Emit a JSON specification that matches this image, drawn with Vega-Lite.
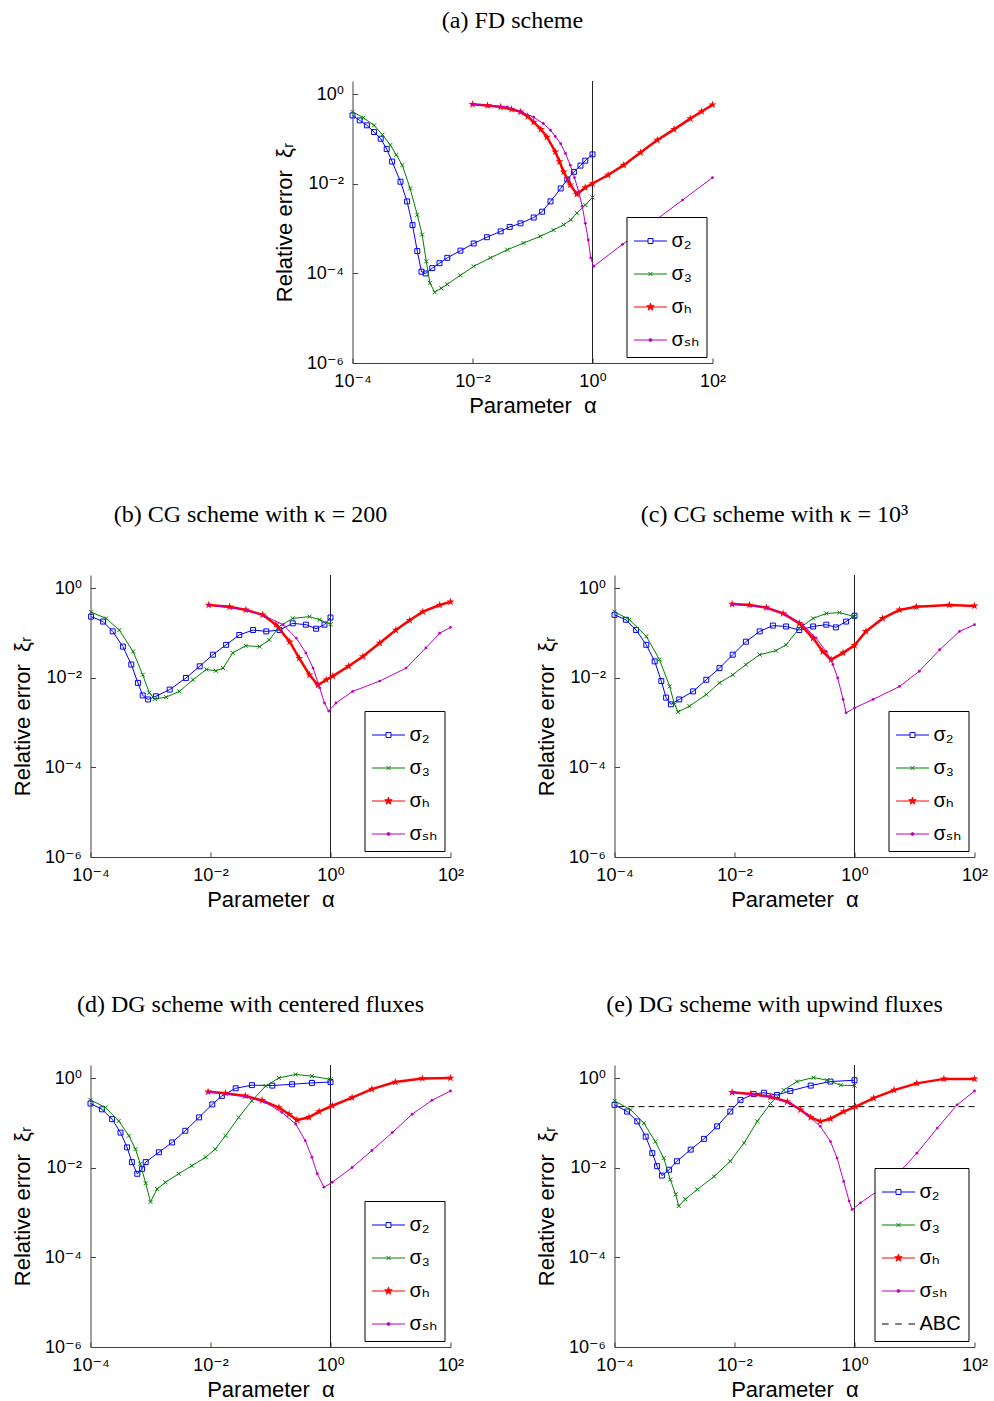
{
"$schema": "https://vega.github.io/schema/vega-lite/v6.json",
"padding": {"top": 8, "left": 11, "right": 0, "bottom": 0},
"config": {
  "view": {"stroke": null},
  "title": {"font": "Liberation Serif", "fontSize": 24, "fontWeight": "normal", "color": "black", "offset": 48, "dx": -20, "anchor": "middle"},
  "axis": {"labelFont": "Liberation Sans, DejaVu Sans", "labelFontSize": 18, "labelColor": "black", "titleFont": "Liberation Sans, DejaVu Sans", "titleFontSize": 22, "titleFontWeight": "normal", "titleColor": "black", "domainColor": "#404040", "tickColor": "#404040", "tickSize": -5, "grid": false, "labelPadding": 14, "titlePadding": 10, "labelFlush": false, "labelAngle": 0},
  "axisX": {"titlePadding": 5},
  "axisY": {"titlePadding": 10},
  "legend": {"orient": "bottom-right", "offset": 6, "padding": 7, "strokeColor": "black", "fillColor": "white", "symbolSize": 1089, "rowPadding": 6, "labelFont": "Liberation Sans, DejaVu Sans", "labelFontSize": 20, "labelColor": "black", "labelOffset": 4, "symbolStrokeWidth": 1, "symbolOpacity": 1, "titlePadding": 0}
},
"datasets": {
"a": [
{"s":"σ₂","la":-4.0,"le":-0.47},{"s":"σ₂","la":-3.88,"le":-0.58},{"s":"σ₂","la":-3.76,"le":-0.69},{"s":"σ₂","la":-3.64,"le":-0.84},{"s":"σ₂","la":-3.53,"le":-0.99},{"s":"σ₂","la":-3.43,"le":-1.22},{"s":"σ₂","la":-3.34,"le":-1.5},{"s":"σ₂","la":-3.2,"le":-1.95},{"s":"σ₂","la":-3.09,"le":-2.39},{"s":"σ₂","la":-3.0,"le":-2.92},{"s":"σ₂","la":-2.92,"le":-3.5},{"s":"σ₂","la":-2.85,"le":-3.96},{"s":"σ₂","la":-2.78,"le":-4.0},{"s":"σ₂","la":-2.67,"le":-3.88},{"s":"σ₂","la":-2.55,"le":-3.77},{"s":"σ₂","la":-2.42,"le":-3.65},{"s":"σ₂","la":-2.2,"le":-3.49},{"s":"σ₂","la":-1.98,"le":-3.33},{"s":"σ₂","la":-1.76,"le":-3.19},{"s":"σ₂","la":-1.53,"le":-3.06},{"s":"σ₂","la":-1.38,"le":-2.96},{"s":"σ₂","la":-1.2,"le":-2.88},{"s":"σ₂","la":-0.98,"le":-2.75},{"s":"σ₂","la":-0.84,"le":-2.62},{"s":"σ₂","la":-0.7,"le":-2.39},{"s":"σ₂","la":-0.53,"le":-2.1},{"s":"σ₂","la":-0.42,"le":-1.9},{"s":"σ₂","la":-0.31,"le":-1.73},{"s":"σ₂","la":-0.2,"le":-1.59},{"s":"σ₂","la":-0.12,"le":-1.48},{"s":"σ₂","la":0.0,"le":-1.34},
{"s":"σ₃","la":-4.0,"le":-0.39},{"s":"σ₃","la":-3.82,"le":-0.52},{"s":"σ₃","la":-3.64,"le":-0.69},{"s":"σ₃","la":-3.5,"le":-0.9},{"s":"σ₃","la":-3.37,"le":-1.13},{"s":"σ₃","la":-3.27,"le":-1.35},{"s":"σ₃","la":-3.17,"le":-1.58},{"s":"σ₃","la":-3.04,"le":-2.1},{"s":"σ₃","la":-2.92,"le":-2.69},{"s":"σ₃","la":-2.84,"le":-3.13},{"s":"σ₃","la":-2.77,"le":-3.73},{"s":"σ₃","la":-2.71,"le":-4.21},{"s":"σ₃","la":-2.63,"le":-4.42},{"s":"σ₃","la":-2.52,"le":-4.33},{"s":"σ₃","la":-2.42,"le":-4.24},{"s":"σ₃","la":-2.2,"le":-4.04},{"s":"σ₃","la":-1.98,"le":-3.84},{"s":"σ₃","la":-1.7,"le":-3.65},{"s":"σ₃","la":-1.42,"le":-3.47},{"s":"σ₃","la":-1.15,"le":-3.32},{"s":"σ₃","la":-0.87,"le":-3.17},{"s":"σ₃","la":-0.65,"le":-3.03},{"s":"σ₃","la":-0.48,"le":-2.91},{"s":"σ₃","la":-0.36,"le":-2.8},{"s":"σ₃","la":-0.26,"le":-2.65},{"s":"σ₃","la":-0.12,"le":-2.47},{"s":"σ₃","la":0.0,"le":-2.3},
{"s":"σₕ","la":-2.0,"le":-0.22},{"s":"σₕ","la":-1.75,"le":-0.25},{"s":"σₕ","la":-1.53,"le":-0.28},{"s":"σₕ","la":-1.35,"le":-0.33},{"s":"σₕ","la":-1.2,"le":-0.39},{"s":"σₕ","la":-1.08,"le":-0.49},{"s":"σₕ","la":-0.98,"le":-0.62},{"s":"σₕ","la":-0.86,"le":-0.78},{"s":"σₕ","la":-0.76,"le":-0.95},{"s":"σₕ","la":-0.62,"le":-1.28},{"s":"σₕ","la":-0.55,"le":-1.5},{"s":"σₕ","la":-0.48,"le":-1.73},{"s":"σₕ","la":-0.37,"le":-2.02},{"s":"σₕ","la":-0.26,"le":-2.23},{"s":"σₕ","la":-0.12,"le":-2.08},{"s":"σₕ","la":0.0,"le":-1.99},{"s":"σₕ","la":0.26,"le":-1.8},{"s":"σₕ","la":0.52,"le":-1.58},{"s":"σₕ","la":0.8,"le":-1.3},{"s":"σₕ","la":1.08,"le":-1.02},{"s":"σₕ","la":1.36,"le":-0.78},{"s":"σₕ","la":1.63,"le":-0.54},{"s":"σₕ","la":1.82,"le":-0.38},{"s":"σₕ","la":2.0,"le":-0.23},
{"s":"σₛₕ","la":-2.0,"le":-0.22},{"s":"σₛₕ","la":-1.7,"le":-0.25},{"s":"σₛₕ","la":-1.42,"le":-0.28},{"s":"σₛₕ","la":-1.2,"le":-0.38},{"s":"σₛₕ","la":-0.98,"le":-0.51},{"s":"σₛₕ","la":-0.82,"le":-0.65},{"s":"σₛₕ","la":-0.7,"le":-0.8},{"s":"σₛₕ","la":-0.62,"le":-0.94},{"s":"σₛₕ","la":-0.53,"le":-1.1},{"s":"σₛₕ","la":-0.45,"le":-1.32},{"s":"σₛₕ","la":-0.37,"le":-1.58},{"s":"σₛₕ","la":-0.3,"le":-1.86},{"s":"σₛₕ","la":-0.23,"le":-2.17},{"s":"σₛₕ","la":-0.17,"le":-2.5},{"s":"σₛₕ","la":-0.12,"le":-2.88},{"s":"σₛₕ","la":-0.07,"le":-3.25},{"s":"σₛₕ","la":-0.03,"le":-3.65},{"s":"σₛₕ","la":0.02,"le":-3.84},{"s":"σₛₕ","la":0.5,"le":-3.35},{"s":"σₛₕ","la":1.0,"le":-2.86},{"s":"σₛₕ","la":1.5,"le":-2.36},{"s":"σₛₕ","la":2.0,"le":-1.86}
],
"b": [
{"s":"σ₂","la":-3.99,"le":-0.63},{"s":"σ₂","la":-3.79,"le":-0.74},{"s":"σ₂","la":-3.63,"le":-0.96},{"s":"σ₂","la":-3.46,"le":-1.3},{"s":"σ₂","la":-3.32,"le":-1.7},{"s":"σ₂","la":-3.21,"le":-2.11},{"s":"σ₂","la":-3.13,"le":-2.39},{"s":"σ₂","la":-3.04,"le":-2.48},{"s":"σ₂","la":-2.91,"le":-2.41},{"s":"σ₂","la":-2.68,"le":-2.26},{"s":"σ₂","la":-2.41,"le":-2.0},{"s":"σ₂","la":-2.18,"le":-1.74},{"s":"σ₂","la":-1.96,"le":-1.48},{"s":"σ₂","la":-1.74,"le":-1.26},{"s":"σ₂","la":-1.52,"le":-1.04},{"s":"σ₂","la":-1.29,"le":-0.93},{"s":"σ₂","la":-1.07,"le":-0.96},{"s":"σ₂","la":-0.85,"le":-0.93},{"s":"σ₂","la":-0.63,"le":-0.78},{"s":"σ₂","la":-0.41,"le":-0.81},{"s":"σ₂","la":-0.24,"le":-0.9},{"s":"σ₂","la":-0.1,"le":-0.81},{"s":"σ₂","la":0.0,"le":-0.65},
{"s":"σ₃","la":-3.99,"le":-0.53},{"s":"σ₃","la":-3.74,"le":-0.67},{"s":"σ₃","la":-3.52,"le":-0.93},{"s":"σ₃","la":-3.29,"le":-1.41},{"s":"σ₃","la":-3.13,"le":-1.93},{"s":"σ₃","la":-3.02,"le":-2.33},{"s":"σ₃","la":-2.93,"le":-2.47},{"s":"σ₃","la":-2.74,"le":-2.43},{"s":"σ₃","la":-2.52,"le":-2.3},{"s":"σ₃","la":-2.29,"le":-2.04},{"s":"σ₃","la":-2.07,"le":-1.81},{"s":"σ₃","la":-1.91,"le":-1.84},{"s":"σ₃","la":-1.79,"le":-1.78},{"s":"σ₃","la":-1.63,"le":-1.44},{"s":"σ₃","la":-1.41,"le":-1.28},{"s":"σ₃","la":-1.18,"le":-1.3},{"s":"σ₃","la":-1.02,"le":-1.15},{"s":"σ₃","la":-0.85,"le":-0.85},{"s":"σ₃","la":-0.63,"le":-0.67},{"s":"σ₃","la":-0.35,"le":-0.63},{"s":"σ₃","la":-0.18,"le":-0.7},{"s":"σ₃","la":0.0,"le":-0.8},
{"s":"σₕ","la":-2.03,"le":-0.37},{"s":"σₕ","la":-1.68,"le":-0.41},{"s":"σₕ","la":-1.41,"le":-0.48},{"s":"σₕ","la":-1.13,"le":-0.59},{"s":"σₕ","la":-0.91,"le":-0.81},{"s":"σₕ","la":-0.68,"le":-1.19},{"s":"σₕ","la":-0.52,"le":-1.56},{"s":"σₕ","la":-0.35,"le":-1.93},{"s":"σₕ","la":-0.21,"le":-2.16},{"s":"σₕ","la":-0.07,"le":-2.04},{"s":"σₕ","la":0.04,"le":-1.96},{"s":"σₕ","la":0.3,"le":-1.74},{"s":"σₕ","la":0.54,"le":-1.52},{"s":"σₕ","la":0.82,"le":-1.22},{"s":"σₕ","la":1.09,"le":-0.93},{"s":"σₕ","la":1.32,"le":-0.71},{"s":"σₕ","la":1.54,"le":-0.52},{"s":"σₕ","la":1.82,"le":-0.37},{"s":"σₕ","la":2.0,"le":-0.3},
{"s":"σₛₕ","la":-2.03,"le":-0.37},{"s":"σₛₕ","la":-1.41,"le":-0.48},{"s":"σₛₕ","la":-1.07,"le":-0.63},{"s":"σₛₕ","la":-0.79,"le":-0.81},{"s":"σₛₕ","la":-0.57,"le":-1.11},{"s":"σₛₕ","la":-0.41,"le":-1.44},{"s":"σₛₕ","la":-0.29,"le":-1.78},{"s":"σₛₕ","la":-0.18,"le":-2.22},{"s":"σₛₕ","la":-0.1,"le":-2.56},{"s":"σₛₕ","la":-0.03,"le":-2.74},{"s":"σₛₕ","la":0.09,"le":-2.56},{"s":"σₛₕ","la":0.37,"le":-2.3},{"s":"σₛₕ","la":0.82,"le":-2.07},{"s":"σₛₕ","la":1.26,"le":-1.78},{"s":"σₛₕ","la":1.59,"le":-1.33},{"s":"σₛₕ","la":1.82,"le":-1.0},{"s":"σₛₕ","la":2.0,"le":-0.87}
],
"c": [
{"s":"σ₂","la":-4.0,"le":-0.59},{"s":"σ₂","la":-3.81,"le":-0.7},{"s":"σ₂","la":-3.64,"le":-0.93},{"s":"σ₂","la":-3.47,"le":-1.26},{"s":"σ₂","la":-3.33,"le":-1.63},{"s":"σ₂","la":-3.22,"le":-2.07},{"s":"σ₂","la":-3.14,"le":-2.44},{"s":"σ₂","la":-3.06,"le":-2.59},{"s":"σ₂","la":-2.92,"le":-2.48},{"s":"σ₂","la":-2.69,"le":-2.3},{"s":"σ₂","la":-2.47,"le":-2.04},{"s":"σ₂","la":-2.25,"le":-1.78},{"s":"σ₂","la":-2.03,"le":-1.48},{"s":"σ₂","la":-1.81,"le":-1.19},{"s":"σ₂","la":-1.58,"le":-0.96},{"s":"σ₂","la":-1.36,"le":-0.83},{"s":"σ₂","la":-1.14,"le":-0.85},{"s":"σ₂","la":-0.92,"le":-0.93},{"s":"σ₂","la":-0.69,"le":-0.85},{"s":"σ₂","la":-0.47,"le":-0.81},{"s":"σ₂","la":-0.31,"le":-0.87},{"s":"σ₂","la":-0.14,"le":-0.74},{"s":"σ₂","la":0.0,"le":-0.61},
{"s":"σ₃","la":-4.0,"le":-0.52},{"s":"σ₃","la":-3.75,"le":-0.7},{"s":"σ₃","la":-3.47,"le":-1.07},{"s":"σ₃","la":-3.25,"le":-1.59},{"s":"σ₃","la":-3.08,"le":-2.19},{"s":"σ₃","la":-3.0,"le":-2.59},{"s":"σ₃","la":-2.94,"le":-2.76},{"s":"σ₃","la":-2.75,"le":-2.63},{"s":"σ₃","la":-2.47,"le":-2.37},{"s":"σ₃","la":-2.25,"le":-2.11},{"s":"σ₃","la":-2.03,"le":-1.93},{"s":"σ₃","la":-1.81,"le":-1.7},{"s":"σ₃","la":-1.58,"le":-1.48},{"s":"σ₃","la":-1.31,"le":-1.39},{"s":"σ₃","la":-1.14,"le":-1.26},{"s":"σ₃","la":-0.92,"le":-0.89},{"s":"σ₃","la":-0.69,"le":-0.67},{"s":"σ₃","la":-0.47,"le":-0.56},{"s":"σ₃","la":-0.25,"le":-0.54},{"s":"σ₃","la":0.0,"le":-0.63},
{"s":"σₕ","la":-2.04,"le":-0.35},{"s":"σₕ","la":-1.75,"le":-0.37},{"s":"σₕ","la":-1.47,"le":-0.43},{"s":"σₕ","la":-1.19,"le":-0.56},{"s":"σₕ","la":-0.92,"le":-0.78},{"s":"σₕ","la":-0.69,"le":-1.11},{"s":"σₕ","la":-0.53,"le":-1.41},{"s":"σₕ","la":-0.39,"le":-1.59},{"s":"σₕ","la":-0.19,"le":-1.44},{"s":"σₕ","la":0.0,"le":-1.27},{"s":"σₕ","la":0.19,"le":-0.96},{"s":"σₕ","la":0.47,"le":-0.67},{"s":"σₕ","la":0.75,"le":-0.48},{"s":"σₕ","la":1.03,"le":-0.41},{"s":"σₕ","la":1.58,"le":-0.37},{"s":"σₕ","la":2.0,"le":-0.39},
{"s":"σₛₕ","la":-2.04,"le":-0.35},{"s":"σₛₕ","la":-1.47,"le":-0.43},{"s":"σₛₕ","la":-1.14,"le":-0.59},{"s":"σₛₕ","la":-0.86,"le":-0.81},{"s":"σₛₕ","la":-0.64,"le":-1.11},{"s":"σₛₕ","la":-0.47,"le":-1.41},{"s":"σₛₕ","la":-0.36,"le":-1.7},{"s":"σₛₕ","la":-0.28,"le":-2.0},{"s":"σₛₕ","la":-0.19,"le":-2.48},{"s":"σₛₕ","la":-0.14,"le":-2.78},{"s":"σₛₕ","la":0.0,"le":-2.67},{"s":"σₛₕ","la":0.31,"le":-2.48},{"s":"σₛₕ","la":0.75,"le":-2.19},{"s":"σₛₕ","la":1.08,"le":-1.85},{"s":"σₛₕ","la":1.42,"le":-1.37},{"s":"σₛₕ","la":1.75,"le":-0.96},{"s":"σₛₕ","la":2.0,"le":-0.81}
],
"d": [
{"s":"σ₂","la":-4.0,"le":-0.56},{"s":"σ₂","la":-3.81,"le":-0.69},{"s":"σ₂","la":-3.64,"le":-0.91},{"s":"σ₂","la":-3.5,"le":-1.21},{"s":"σ₂","la":-3.39,"le":-1.54},{"s":"σ₂","la":-3.31,"le":-1.87},{"s":"σ₂","la":-3.22,"le":-2.13},{"s":"σ₂","la":-3.14,"le":-2.02},{"s":"σ₂","la":-3.08,"le":-1.87},{"s":"σ₂","la":-2.86,"le":-1.65},{"s":"σ₂","la":-2.64,"le":-1.43},{"s":"σ₂","la":-2.42,"le":-1.17},{"s":"σ₂","la":-2.19,"le":-0.87},{"s":"σ₂","la":-1.97,"le":-0.58},{"s":"σ₂","la":-1.81,"le":-0.39},{"s":"σ₂","la":-1.58,"le":-0.22},{"s":"σ₂","la":-1.31,"le":-0.15},{"s":"σ₂","la":-0.97,"le":-0.16},{"s":"σ₂","la":-0.64,"le":-0.13},{"s":"σ₂","la":-0.31,"le":-0.1},{"s":"σ₂","la":0.0,"le":-0.08},
{"s":"σ₃","la":-4.0,"le":-0.48},{"s":"σ₃","la":-3.75,"le":-0.65},{"s":"σ₃","la":-3.53,"le":-0.95},{"s":"σ₃","la":-3.36,"le":-1.28},{"s":"σ₃","la":-3.25,"le":-1.58},{"s":"σ₃","la":-3.17,"le":-1.91},{"s":"σ₃","la":-3.08,"le":-2.34},{"s":"σ₃","la":-3.0,"le":-2.76},{"s":"σ₃","la":-2.89,"le":-2.47},{"s":"σ₃","la":-2.75,"le":-2.32},{"s":"σ₃","la":-2.53,"le":-2.13},{"s":"σ₃","la":-2.31,"le":-1.95},{"s":"σ₃","la":-2.08,"le":-1.76},{"s":"σ₃","la":-1.92,"le":-1.58},{"s":"σ₃","la":-1.75,"le":-1.28},{"s":"σ₃","la":-1.53,"le":-0.87},{"s":"σ₃","la":-1.31,"le":-0.5},{"s":"σ₃","la":-1.08,"le":-0.17},{"s":"σ₃","la":-0.86,"le":0.01},{"s":"σ₃","la":-0.58,"le":0.09},{"s":"σ₃","la":-0.31,"le":0.05},{"s":"σ₃","la":0.0,"le":-0.02},
{"s":"σₕ","la":-2.04,"le":-0.3},{"s":"σₕ","la":-1.75,"le":-0.33},{"s":"σₕ","la":-1.42,"le":-0.39},{"s":"σₕ","la":-1.14,"le":-0.49},{"s":"σₕ","la":-0.86,"le":-0.65},{"s":"σₕ","la":-0.69,"le":-0.8},{"s":"σₕ","la":-0.56,"le":-0.93},{"s":"σₕ","la":-0.36,"le":-0.87},{"s":"σₕ","la":-0.19,"le":-0.74},{"s":"σₕ","la":0.03,"le":-0.61},{"s":"σₕ","la":0.36,"le":-0.43},{"s":"σₕ","la":0.69,"le":-0.24},{"s":"σₕ","la":1.08,"le":-0.08},{"s":"σₕ","la":1.53,"le":0.0},{"s":"σₕ","la":2.0,"le":0.01},
{"s":"σₛₕ","la":-2.04,"le":-0.3},{"s":"σₛₕ","la":-1.42,"le":-0.41},{"s":"σₛₕ","la":-1.08,"le":-0.54},{"s":"σₛₕ","la":-0.81,"le":-0.76},{"s":"σₛₕ","la":-0.58,"le":-1.02},{"s":"σₛₕ","la":-0.42,"le":-1.39},{"s":"σₛₕ","la":-0.31,"le":-1.76},{"s":"σₛₕ","la":-0.22,"le":-2.13},{"s":"σₛₕ","la":-0.11,"le":-2.43},{"s":"σₛₕ","la":0.03,"le":-2.32},{"s":"σₛₕ","la":0.36,"le":-1.99},{"s":"σₛₕ","la":0.69,"le":-1.61},{"s":"σₛₕ","la":1.03,"le":-1.21},{"s":"σₛₕ","la":1.36,"le":-0.8},{"s":"σₛₕ","la":1.69,"le":-0.49},{"s":"σₛₕ","la":2.0,"le":-0.28}
],
"e": [
{"s":"σ₂","la":-4.0,"le":-0.59},{"s":"σ₂","la":-3.79,"le":-0.74},{"s":"σ₂","la":-3.62,"le":-0.96},{"s":"σ₂","la":-3.48,"le":-1.3},{"s":"σ₂","la":-3.37,"le":-1.67},{"s":"σ₂","la":-3.29,"le":-1.96},{"s":"σ₂","la":-3.21,"le":-2.17},{"s":"σ₂","la":-3.09,"le":-2.04},{"s":"σ₂","la":-2.96,"le":-1.85},{"s":"σ₂","la":-2.73,"le":-1.59},{"s":"σ₂","la":-2.51,"le":-1.35},{"s":"σ₂","la":-2.29,"le":-1.07},{"s":"σ₂","la":-2.07,"le":-0.74},{"s":"σ₂","la":-1.9,"le":-0.48},{"s":"σ₂","la":-1.68,"le":-0.35},{"s":"σ₂","la":-1.51,"le":-0.32},{"s":"σ₂","la":-1.29,"le":-0.37},{"s":"σ₂","la":-1.07,"le":-0.28},{"s":"σ₂","la":-0.73,"le":-0.16},{"s":"σ₂","la":-0.4,"le":-0.07},{"s":"σ₂","la":0.0,"le":-0.04},
{"s":"σ₃","la":-4.0,"le":-0.5},{"s":"σ₃","la":-3.73,"le":-0.7},{"s":"σ₃","la":-3.51,"le":-1.0},{"s":"σ₃","la":-3.32,"le":-1.41},{"s":"σ₃","la":-3.18,"le":-1.78},{"s":"σ₃","la":-3.07,"le":-2.26},{"s":"σ₃","la":-2.98,"le":-2.59},{"s":"σ₃","la":-2.93,"le":-2.85},{"s":"σ₃","la":-2.82,"le":-2.7},{"s":"σ₃","la":-2.62,"le":-2.48},{"s":"σ₃","la":-2.34,"le":-2.19},{"s":"σ₃","la":-2.07,"le":-1.85},{"s":"σ₃","la":-1.84,"le":-1.44},{"s":"σ₃","la":-1.62,"le":-0.96},{"s":"σ₃","la":-1.4,"le":-0.56},{"s":"σ₃","la":-1.18,"le":-0.26},{"s":"σ₃","la":-0.96,"le":-0.07},{"s":"σ₃","la":-0.68,"le":0.02},{"s":"σ₃","la":-0.46,"le":-0.04},{"s":"σ₃","la":-0.23,"le":-0.15},{"s":"σ₃","la":0.0,"le":-0.16},
{"s":"σₕ","la":-2.04,"le":-0.31},{"s":"σₕ","la":-1.73,"le":-0.35},{"s":"σₕ","la":-1.4,"le":-0.41},{"s":"σₕ","la":-1.12,"le":-0.52},{"s":"σₕ","la":-0.9,"le":-0.7},{"s":"σₕ","la":-0.73,"le":-0.87},{"s":"σₕ","la":-0.57,"le":-0.96},{"s":"σₕ","la":-0.4,"le":-0.9},{"s":"σₕ","la":-0.18,"le":-0.74},{"s":"σₕ","la":0.02,"le":-0.63},{"s":"σₕ","la":0.32,"le":-0.44},{"s":"σₕ","la":0.66,"le":-0.26},{"s":"σₕ","la":1.04,"le":-0.11},{"s":"σₕ","la":1.49,"le":-0.01},{"s":"σₕ","la":2.0,"le":-0.01},
{"s":"σₛₕ","la":-2.04,"le":-0.31},{"s":"σₛₕ","la":-1.4,"le":-0.41},{"s":"σₛₕ","la":-1.07,"le":-0.56},{"s":"σₛₕ","la":-0.79,"le":-0.81},{"s":"σₛₕ","la":-0.57,"le":-1.07},{"s":"σₛₕ","la":-0.4,"le":-1.41},{"s":"σₛₕ","la":-0.29,"le":-1.78},{"s":"σₛₕ","la":-0.18,"le":-2.3},{"s":"σₛₕ","la":-0.09,"le":-2.74},{"s":"σₛₕ","la":-0.04,"le":-2.93},{"s":"σₛₕ","la":0.1,"le":-2.78},{"s":"σₛₕ","la":0.38,"le":-2.52},{"s":"σₛₕ","la":0.71,"le":-2.15},{"s":"σₛₕ","la":1.04,"le":-1.67},{"s":"σₛₕ","la":1.38,"le":-1.11},{"s":"σₛₕ","la":1.71,"le":-0.59},{"s":"σₛₕ","la":2.0,"le":-0.28}
]
},
"spacing": 86,
"center": true,
"resolve": {"scale": {"stroke": "independent", "shape": "independent", "fill": "independent"}},
"vconcat": [
{
 "width": 360, "height": 282,
 "title": {"text": "(a) FD scheme"},
 "data": {"name": "a"},
 "layer": [
  {"data": {"values": [{"la": 0}]}, "mark": {"type": "rule", "color": "#202020", "strokeWidth": 1}, "encoding": {"x": {"field": "la", "type": "quantitative"}}},
  {"transform": [{"filter": {"field": "s", "equal": "σ₂"}}], "mark": {"type": "line", "color": "#0000ff", "strokeWidth": 1, "point": {"shape": "M-0.62,-0.62H0.62V0.62H-0.62Z", "size": 64, "filled": false, "color": "#0000ff", "strokeWidth": 1, "opacity": 1}}, "encoding": {
    "x": {"field": "la", "type": "quantitative", "scale": {"domain": [-4, 2], "nice": false, "zero": false}, "axis": {"values": [-4, -2, 0, 2], "labelExpr": "datum.value===0?'10⁰':datum.value===-2?'10⁻²':datum.value===-4?'10⁻⁴':'10²'", "title": "Parameter\u00a0 α"}},
    "y": {"field": "le", "type": "quantitative", "scale": {"domain": [-6, 0.3], "nice": false, "zero": false}, "axis": {"values": [-6, -4, -2, 0], "labelExpr": "datum.value===0?'10⁰':datum.value===-2?'10⁻²':datum.value===-4?'10⁻⁴':'10⁻⁶'", "title": "Relative error\u00a0 ξᵣ"}}}},
  {"transform": [{"filter": {"field": "s", "equal": "σ₃"}}], "mark": {"type": "line", "color": "#008000", "strokeWidth": 1, "point": {"shape": "M-0.5,-0.5L0.5,0.5M-0.5,0.5L0.5,-0.5", "size": 64, "filled": false, "color": "#008000", "strokeWidth": 1, "opacity": 1}}, "encoding": {"x": {"field": "la", "type": "quantitative"}, "y": {"field": "le", "type": "quantitative"}}},
  {"transform": [{"filter": {"field": "s", "equal": "σₕ"}}], "mark": {"type": "line", "color": "#ff0000", "strokeWidth": 2.5, "point": {"shape": "M0,-1L0.223,-0.307L0.951,-0.309L0.361,0.117L0.588,0.809L0,0.38L-0.588,0.809L-0.361,0.117L-0.951,-0.309L-0.223,-0.307Z", "size": 72, "filled": true, "color": "#ff0000", "opacity": 1}}, "encoding": {"x": {"field": "la", "type": "quantitative"}, "y": {"field": "le", "type": "quantitative"}}},
  {"transform": [{"filter": {"field": "s", "equal": "σₛₕ"}}], "mark": {"type": "line", "color": "#bf00bf", "strokeWidth": 1, "point": {"shape": "circle", "size": 8, "filled": true, "color": "#bf00bf", "opacity": 1}}, "encoding": {"x": {"field": "la", "type": "quantitative"}, "y": {"field": "le", "type": "quantitative"}}},
  {"transform": [{"filter": "false"}], "mark": {"type": "point", "filled": false, "opacity": 1}, "encoding": {
    "stroke": {"field": "s", "type": "nominal", "scale": {"domain": ["σ₂","σ₃","σₕ","σₛₕ"], "range": ["#0000ff","#008000","#ff0000","#bf00bf"]}, "legend": {"title": null}},
    "fill": {"field": "s", "type": "nominal", "scale": {"domain": ["σ₂","σ₃","σₕ","σₛₕ"], "range": ["transparent","transparent","#ff0000","#bf00bf"]}, "legend": {"title": null}},
    "shape": {"field": "s", "type": "nominal", "scale": {"domain": ["σ₂","σ₃","σₕ","σₛₕ"], "range": ["M-1,0H-0.15M0.15,0H1M-0.15,-0.15H0.15V0.15H-0.15Z","M-1,0H1M-0.12,-0.12L0.12,0.12M-0.12,0.12L0.12,-0.12","M-1,0H1M0,-0.24L0.054,-0.074L0.228,-0.074L0.087,0.028L0.141,0.194L0,0.091L-0.141,0.194L-0.087,0.028L-0.228,-0.074L-0.054,-0.074Z","M-1,0H1M-0.09,0A0.09,0.09,0,1,0,0.09,0A0.09,0.09,0,1,0,-0.09,0Z"]}, "legend": {"title": null}}}}
 ]
},
{
 "spacing": 82,
 "resolve": {"scale": {"stroke": "independent", "shape": "independent", "fill": "independent"}},
 "vconcat": [
 {
 "spacing": 70,
 "resolve": {"scale": {"stroke": "independent", "shape": "independent", "fill": "independent"}},
 "hconcat": [
  {
   "width": 360, "height": 282,
   "title": {"text": "(b) CG scheme with κ = 200"},
   "data": {"name": "b"},
   "layer": [
    {"data": {"values": [{"la": 0}]}, "mark": {"type": "rule", "color": "#202020", "strokeWidth": 1}, "encoding": {"x": {"field": "la", "type": "quantitative"}}},
    {"transform": [{"filter": {"field": "s", "equal": "σ₂"}}], "mark": {"type": "line", "color": "#0000ff", "strokeWidth": 1, "point": {"shape": "M-0.62,-0.62H0.62V0.62H-0.62Z", "size": 64, "filled": false, "color": "#0000ff", "strokeWidth": 1, "opacity": 1}}, "encoding": {
      "x": {"field": "la", "type": "quantitative", "scale": {"domain": [-4, 2], "nice": false, "zero": false}, "axis": {"values": [-4, -2, 0, 2], "labelExpr": "datum.value===0?'10⁰':datum.value===-2?'10⁻²':datum.value===-4?'10⁻⁴':'10²'", "title": "Parameter\u00a0 α"}},
      "y": {"field": "le", "type": "quantitative", "scale": {"domain": [-6, 0.3], "nice": false, "zero": false}, "axis": {"values": [-6, -4, -2, 0], "labelExpr": "datum.value===0?'10⁰':datum.value===-2?'10⁻²':datum.value===-4?'10⁻⁴':'10⁻⁶'", "title": "Relative error\u00a0 ξᵣ"}}}},
    {"transform": [{"filter": {"field": "s", "equal": "σ₃"}}], "mark": {"type": "line", "color": "#008000", "strokeWidth": 1, "point": {"shape": "M-0.5,-0.5L0.5,0.5M-0.5,0.5L0.5,-0.5", "size": 64, "filled": false, "color": "#008000", "strokeWidth": 1, "opacity": 1}}, "encoding": {"x": {"field": "la", "type": "quantitative"}, "y": {"field": "le", "type": "quantitative"}}},
    {"transform": [{"filter": {"field": "s", "equal": "σₕ"}}], "mark": {"type": "line", "color": "#ff0000", "strokeWidth": 2.5, "point": {"shape": "M0,-1L0.223,-0.307L0.951,-0.309L0.361,0.117L0.588,0.809L0,0.38L-0.588,0.809L-0.361,0.117L-0.951,-0.309L-0.223,-0.307Z", "size": 72, "filled": true, "color": "#ff0000", "opacity": 1}}, "encoding": {"x": {"field": "la", "type": "quantitative"}, "y": {"field": "le", "type": "quantitative"}}},
    {"transform": [{"filter": {"field": "s", "equal": "σₛₕ"}}], "mark": {"type": "line", "color": "#bf00bf", "strokeWidth": 1, "point": {"shape": "circle", "size": 8, "filled": true, "color": "#bf00bf", "opacity": 1}}, "encoding": {"x": {"field": "la", "type": "quantitative"}, "y": {"field": "le", "type": "quantitative"}}},
    {"transform": [{"filter": "false"}], "mark": {"type": "point", "filled": false, "opacity": 1}, "encoding": {
      "stroke": {"field": "s", "type": "nominal", "scale": {"domain": ["σ₂","σ₃","σₕ","σₛₕ"], "range": ["#0000ff","#008000","#ff0000","#bf00bf"]}, "legend": {"title": null}},
      "fill": {"field": "s", "type": "nominal", "scale": {"domain": ["σ₂","σ₃","σₕ","σₛₕ"], "range": ["transparent","transparent","#ff0000","#bf00bf"]}, "legend": {"title": null}},
      "shape": {"field": "s", "type": "nominal", "scale": {"domain": ["σ₂","σ₃","σₕ","σₛₕ"], "range": ["M-1,0H-0.15M0.15,0H1M-0.15,-0.15H0.15V0.15H-0.15Z","M-1,0H1M-0.12,-0.12L0.12,0.12M-0.12,0.12L0.12,-0.12","M-1,0H1M0,-0.24L0.054,-0.074L0.228,-0.074L0.087,0.028L0.141,0.194L0,0.091L-0.141,0.194L-0.087,0.028L-0.228,-0.074L-0.054,-0.074Z","M-1,0H1M-0.09,0A0.09,0.09,0,1,0,0.09,0A0.09,0.09,0,1,0,-0.09,0Z"]}, "legend": {"title": null}}}}
   ]
  },
  {
   "width": 360, "height": 282,
   "title": {"text": "(c) CG scheme with κ = 10³"},
   "data": {"name": "c"},
   "layer": [
    {"data": {"values": [{"la": 0}]}, "mark": {"type": "rule", "color": "#202020", "strokeWidth": 1}, "encoding": {"x": {"field": "la", "type": "quantitative"}}},
    {"transform": [{"filter": {"field": "s", "equal": "σ₂"}}], "mark": {"type": "line", "color": "#0000ff", "strokeWidth": 1, "point": {"shape": "M-0.62,-0.62H0.62V0.62H-0.62Z", "size": 64, "filled": false, "color": "#0000ff", "strokeWidth": 1, "opacity": 1}}, "encoding": {
      "x": {"field": "la", "type": "quantitative", "scale": {"domain": [-4, 2], "nice": false, "zero": false}, "axis": {"values": [-4, -2, 0, 2], "labelExpr": "datum.value===0?'10⁰':datum.value===-2?'10⁻²':datum.value===-4?'10⁻⁴':'10²'", "title": "Parameter\u00a0 α"}},
      "y": {"field": "le", "type": "quantitative", "scale": {"domain": [-6, 0.3], "nice": false, "zero": false}, "axis": {"values": [-6, -4, -2, 0], "labelExpr": "datum.value===0?'10⁰':datum.value===-2?'10⁻²':datum.value===-4?'10⁻⁴':'10⁻⁶'", "title": "Relative error\u00a0 ξᵣ"}}}},
    {"transform": [{"filter": {"field": "s", "equal": "σ₃"}}], "mark": {"type": "line", "color": "#008000", "strokeWidth": 1, "point": {"shape": "M-0.5,-0.5L0.5,0.5M-0.5,0.5L0.5,-0.5", "size": 64, "filled": false, "color": "#008000", "strokeWidth": 1, "opacity": 1}}, "encoding": {"x": {"field": "la", "type": "quantitative"}, "y": {"field": "le", "type": "quantitative"}}},
    {"transform": [{"filter": {"field": "s", "equal": "σₕ"}}], "mark": {"type": "line", "color": "#ff0000", "strokeWidth": 2.5, "point": {"shape": "M0,-1L0.223,-0.307L0.951,-0.309L0.361,0.117L0.588,0.809L0,0.38L-0.588,0.809L-0.361,0.117L-0.951,-0.309L-0.223,-0.307Z", "size": 72, "filled": true, "color": "#ff0000", "opacity": 1}}, "encoding": {"x": {"field": "la", "type": "quantitative"}, "y": {"field": "le", "type": "quantitative"}}},
    {"transform": [{"filter": {"field": "s", "equal": "σₛₕ"}}], "mark": {"type": "line", "color": "#bf00bf", "strokeWidth": 1, "point": {"shape": "circle", "size": 8, "filled": true, "color": "#bf00bf", "opacity": 1}}, "encoding": {"x": {"field": "la", "type": "quantitative"}, "y": {"field": "le", "type": "quantitative"}}},
    {"transform": [{"filter": "false"}], "mark": {"type": "point", "filled": false, "opacity": 1}, "encoding": {
      "stroke": {"field": "s", "type": "nominal", "scale": {"domain": ["σ₂","σ₃","σₕ","σₛₕ"], "range": ["#0000ff","#008000","#ff0000","#bf00bf"]}, "legend": {"title": null}},
      "fill": {"field": "s", "type": "nominal", "scale": {"domain": ["σ₂","σ₃","σₕ","σₛₕ"], "range": ["transparent","transparent","#ff0000","#bf00bf"]}, "legend": {"title": null}},
      "shape": {"field": "s", "type": "nominal", "scale": {"domain": ["σ₂","σ₃","σₕ","σₛₕ"], "range": ["M-1,0H-0.15M0.15,0H1M-0.15,-0.15H0.15V0.15H-0.15Z","M-1,0H1M-0.12,-0.12L0.12,0.12M-0.12,0.12L0.12,-0.12","M-1,0H1M0,-0.24L0.054,-0.074L0.228,-0.074L0.087,0.028L0.141,0.194L0,0.091L-0.141,0.194L-0.087,0.028L-0.228,-0.074L-0.054,-0.074Z","M-1,0H1M-0.09,0A0.09,0.09,0,1,0,0.09,0A0.09,0.09,0,1,0,-0.09,0Z"]}, "legend": {"title": null}}}}
   ]
  }
 ]
 },
 {
 "spacing": 70,
 "resolve": {"scale": {"stroke": "independent", "shape": "independent", "fill": "independent"}},
 "hconcat": [
  {
   "width": 360, "height": 282,
   "title": {"text": "(d) DG scheme with centered fluxes"},
   "data": {"name": "d"},
   "layer": [
    {"data": {"values": [{"la": 0}]}, "mark": {"type": "rule", "color": "#202020", "strokeWidth": 1}, "encoding": {"x": {"field": "la", "type": "quantitative"}}},
    {"transform": [{"filter": {"field": "s", "equal": "σ₂"}}], "mark": {"type": "line", "color": "#0000ff", "strokeWidth": 1, "point": {"shape": "M-0.62,-0.62H0.62V0.62H-0.62Z", "size": 64, "filled": false, "color": "#0000ff", "strokeWidth": 1, "opacity": 1}}, "encoding": {
      "x": {"field": "la", "type": "quantitative", "scale": {"domain": [-4, 2], "nice": false, "zero": false}, "axis": {"values": [-4, -2, 0, 2], "labelExpr": "datum.value===0?'10⁰':datum.value===-2?'10⁻²':datum.value===-4?'10⁻⁴':'10²'", "title": "Parameter\u00a0 α"}},
      "y": {"field": "le", "type": "quantitative", "scale": {"domain": [-6, 0.3], "nice": false, "zero": false}, "axis": {"values": [-6, -4, -2, 0], "labelExpr": "datum.value===0?'10⁰':datum.value===-2?'10⁻²':datum.value===-4?'10⁻⁴':'10⁻⁶'", "title": "Relative error\u00a0 ξᵣ"}}}},
    {"transform": [{"filter": {"field": "s", "equal": "σ₃"}}], "mark": {"type": "line", "color": "#008000", "strokeWidth": 1, "point": {"shape": "M-0.5,-0.5L0.5,0.5M-0.5,0.5L0.5,-0.5", "size": 64, "filled": false, "color": "#008000", "strokeWidth": 1, "opacity": 1}}, "encoding": {"x": {"field": "la", "type": "quantitative"}, "y": {"field": "le", "type": "quantitative"}}},
    {"transform": [{"filter": {"field": "s", "equal": "σₕ"}}], "mark": {"type": "line", "color": "#ff0000", "strokeWidth": 2.5, "point": {"shape": "M0,-1L0.223,-0.307L0.951,-0.309L0.361,0.117L0.588,0.809L0,0.38L-0.588,0.809L-0.361,0.117L-0.951,-0.309L-0.223,-0.307Z", "size": 72, "filled": true, "color": "#ff0000", "opacity": 1}}, "encoding": {"x": {"field": "la", "type": "quantitative"}, "y": {"field": "le", "type": "quantitative"}}},
    {"transform": [{"filter": {"field": "s", "equal": "σₛₕ"}}], "mark": {"type": "line", "color": "#bf00bf", "strokeWidth": 1, "point": {"shape": "circle", "size": 8, "filled": true, "color": "#bf00bf", "opacity": 1}}, "encoding": {"x": {"field": "la", "type": "quantitative"}, "y": {"field": "le", "type": "quantitative"}}},
    {"transform": [{"filter": "false"}], "mark": {"type": "point", "filled": false, "opacity": 1}, "encoding": {
      "stroke": {"field": "s", "type": "nominal", "scale": {"domain": ["σ₂","σ₃","σₕ","σₛₕ"], "range": ["#0000ff","#008000","#ff0000","#bf00bf"]}, "legend": {"title": null}},
      "fill": {"field": "s", "type": "nominal", "scale": {"domain": ["σ₂","σ₃","σₕ","σₛₕ"], "range": ["transparent","transparent","#ff0000","#bf00bf"]}, "legend": {"title": null}},
      "shape": {"field": "s", "type": "nominal", "scale": {"domain": ["σ₂","σ₃","σₕ","σₛₕ"], "range": ["M-1,0H-0.15M0.15,0H1M-0.15,-0.15H0.15V0.15H-0.15Z","M-1,0H1M-0.12,-0.12L0.12,0.12M-0.12,0.12L0.12,-0.12","M-1,0H1M0,-0.24L0.054,-0.074L0.228,-0.074L0.087,0.028L0.141,0.194L0,0.091L-0.141,0.194L-0.087,0.028L-0.228,-0.074L-0.054,-0.074Z","M-1,0H1M-0.09,0A0.09,0.09,0,1,0,0.09,0A0.09,0.09,0,1,0,-0.09,0Z"]}, "legend": {"title": null}}}}
   ]
  },
  {
   "width": 360, "height": 282,
   "title": {"text": "(e) DG scheme with upwind fluxes"},
   "data": {"name": "e"},
   "layer": [
    {"data": {"values": [{"la": 0}]}, "mark": {"type": "rule", "color": "#202020", "strokeWidth": 1}, "encoding": {"x": {"field": "la", "type": "quantitative"}}},
    {"data": {"values": [{"s": "ABC", "le": -0.63}]}, "mark": {"type": "rule", "color": "#000000", "strokeWidth": 1, "strokeDash": [6, 4]}, "encoding": {"y": {"field": "le", "type": "quantitative"}}},
    {"transform": [{"filter": {"field": "s", "equal": "σ₂"}}], "mark": {"type": "line", "color": "#0000ff", "strokeWidth": 1, "point": {"shape": "M-0.62,-0.62H0.62V0.62H-0.62Z", "size": 64, "filled": false, "color": "#0000ff", "strokeWidth": 1, "opacity": 1}}, "encoding": {
      "x": {"field": "la", "type": "quantitative", "scale": {"domain": [-4, 2], "nice": false, "zero": false}, "axis": {"values": [-4, -2, 0, 2], "labelExpr": "datum.value===0?'10⁰':datum.value===-2?'10⁻²':datum.value===-4?'10⁻⁴':'10²'", "title": "Parameter\u00a0 α"}},
      "y": {"field": "le", "type": "quantitative", "scale": {"domain": [-6, 0.3], "nice": false, "zero": false}, "axis": {"values": [-6, -4, -2, 0], "labelExpr": "datum.value===0?'10⁰':datum.value===-2?'10⁻²':datum.value===-4?'10⁻⁴':'10⁻⁶'", "title": "Relative error\u00a0 ξᵣ"}}}},
    {"transform": [{"filter": {"field": "s", "equal": "σ₃"}}], "mark": {"type": "line", "color": "#008000", "strokeWidth": 1, "point": {"shape": "M-0.5,-0.5L0.5,0.5M-0.5,0.5L0.5,-0.5", "size": 64, "filled": false, "color": "#008000", "strokeWidth": 1, "opacity": 1}}, "encoding": {"x": {"field": "la", "type": "quantitative"}, "y": {"field": "le", "type": "quantitative"}}},
    {"transform": [{"filter": {"field": "s", "equal": "σₕ"}}], "mark": {"type": "line", "color": "#ff0000", "strokeWidth": 2.5, "point": {"shape": "M0,-1L0.223,-0.307L0.951,-0.309L0.361,0.117L0.588,0.809L0,0.38L-0.588,0.809L-0.361,0.117L-0.951,-0.309L-0.223,-0.307Z", "size": 72, "filled": true, "color": "#ff0000", "opacity": 1}}, "encoding": {"x": {"field": "la", "type": "quantitative"}, "y": {"field": "le", "type": "quantitative"}}},
    {"transform": [{"filter": {"field": "s", "equal": "σₛₕ"}}], "mark": {"type": "line", "color": "#bf00bf", "strokeWidth": 1, "point": {"shape": "circle", "size": 8, "filled": true, "color": "#bf00bf", "opacity": 1}}, "encoding": {"x": {"field": "la", "type": "quantitative"}, "y": {"field": "le", "type": "quantitative"}}},
    {"transform": [{"filter": "false"}], "mark": {"type": "point", "filled": false, "opacity": 1}, "encoding": {
      "stroke": {"field": "s", "type": "nominal", "scale": {"domain": ["σ₂","σ₃","σₕ","σₛₕ","ABC"], "range": ["#0000ff","#008000","#ff0000","#bf00bf","#000000"]}, "legend": {"title": null}},
      "fill": {"field": "s", "type": "nominal", "scale": {"domain": ["σ₂","σ₃","σₕ","σₛₕ","ABC"], "range": ["transparent","transparent","#ff0000","#bf00bf","transparent"]}, "legend": {"title": null}},
      "shape": {"field": "s", "type": "nominal", "scale": {"domain": ["σ₂","σ₃","σₕ","σₛₕ","ABC"], "range": ["M-1,0H-0.15M0.15,0H1M-0.15,-0.15H0.15V0.15H-0.15Z","M-1,0H1M-0.12,-0.12L0.12,0.12M-0.12,0.12L0.12,-0.12","M-1,0H1M0,-0.24L0.054,-0.074L0.228,-0.074L0.087,0.028L0.141,0.194L0,0.091L-0.141,0.194L-0.087,0.028L-0.228,-0.074L-0.054,-0.074Z","M-1,0H1M-0.09,0A0.09,0.09,0,1,0,0.09,0A0.09,0.09,0,1,0,-0.09,0Z","M-1,0H-0.6M-0.2,0H0.2M0.6,0H1"]}, "legend": {"title": null}}}}
   ]
  }
 ]
 }
 ]
}
]
}
